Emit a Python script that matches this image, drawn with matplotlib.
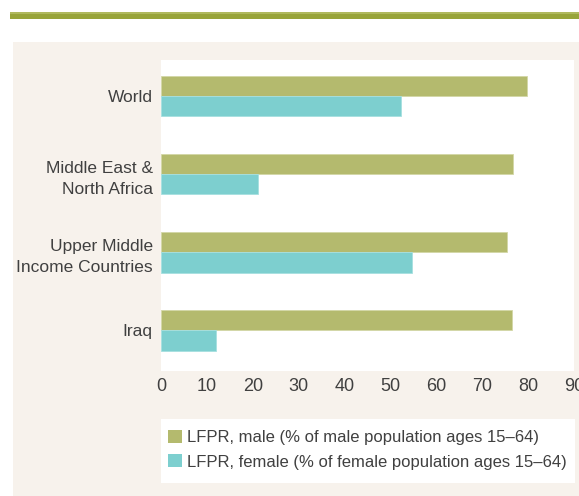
import matplotlib
matplotlib.use("Agg")
import matplotlib.pyplot as plt
from matplotlib.patches import Rectangle, Patch
import numpy as np

plt.rcParams['font.family'] = ['Liberation Sans', 'DejaVu Sans']

categories = ["World", "Middle East &\nNorth Africa", "Upper Middle\nIncome Countries", "Iraq"]
male = [79.7, 76.8, 75.3, 76.4]
female = [52.4, 21.2, 54.6, 12.0]
xticks = [0, 10, 20, 30, 40, 50, 60, 70, 80, 90]
legend_labels = ["LFPR, male (% of male population ages 15\u201364)",
                 "LFPR, female (% of female population ages 15\u201364)"]

male_color = "#b4ba6e"
female_color = "#7dcfcf"
beige = "#f7f2ec"
text_color = "#404040"

W, H = 579, 496
fig = plt.figure(figsize=(W / 100, H / 100), dpi=100)
fig.patch.set_facecolor("white")

def fx(px):
    return px / W

def fy(py):
    return 1 - py / H

# top green rule (two tones)
fig.patches.append(Rectangle((fx(10), fy(14)), fx(569), 2 / H, transform=fig.transFigure,
                             facecolor="#b0b95e", edgecolor="none", zorder=0))
fig.patches.append(Rectangle((fx(10), fy(18.5)), fx(569), 4.5 / H, transform=fig.transFigure,
                             facecolor="#98a43a", edgecolor="none", zorder=0))
# beige panel
fig.patches.append(Rectangle((fx(13), 0), fx(566), fy(42), transform=fig.transFigure,
                             facecolor=beige, edgecolor="none", zorder=0))
# legend white box
fig.patches.append(Rectangle((fx(161), fy(483)), fx(414), (483 - 419) / H, transform=fig.transFigure,
                             facecolor="white", edgecolor="none", zorder=1))

ax = fig.add_axes([fx(161), fy(371), fx(574 - 161), (371 - 60) / H])
ax.set_zorder(3)
ax.set_facecolor("white")

y = np.arange(len(categories))
h = 0.26
ax.barh(y - h / 2, male, height=h, color=male_color, edgecolor="#d3d7a6", linewidth=0.6)
ax.barh(y + h / 2, female, height=h, color=female_color, edgecolor="#a6e0e0", linewidth=0.6)

ax.set_xlim(0, 90)
ax.set_ylim(3.52, -0.46)
ax.set_xticks(xticks)
ax.set_xticklabels([str(t) for t in xticks], fontsize=13, color=text_color)
ax.set_yticks(y)
ax.set_yticklabels(categories, fontsize=12.5, color=text_color, linespacing=1.55)
ax.tick_params(axis="both", length=0)
ax.tick_params(axis="y", pad=6)
ax.tick_params(axis="x", pad=5)
for s in ax.spines.values():
    s.set_visible(False)
for lbl in ax.get_xticklabels():
    lbl.set_clip_on(False)

handles = [Patch(facecolor=male_color, edgecolor="none"),
           Patch(facecolor=female_color, edgecolor="none")]
leg = fig.legend(handles, legend_labels, loc="upper left",
                 bbox_to_anchor=(fx(168), fy(430)), bbox_transform=fig.transFigure,
                 frameon=False, fontsize=12, handlelength=0.85, handleheight=0.85,
                 handletextpad=0.3, labelspacing=0.52, borderpad=0, borderaxespad=0)
for t in leg.get_texts():
    t.set_color(text_color)
leg.set_zorder(4)

fig.savefig("out.png", dpi=100, facecolor=fig.get_facecolor())
